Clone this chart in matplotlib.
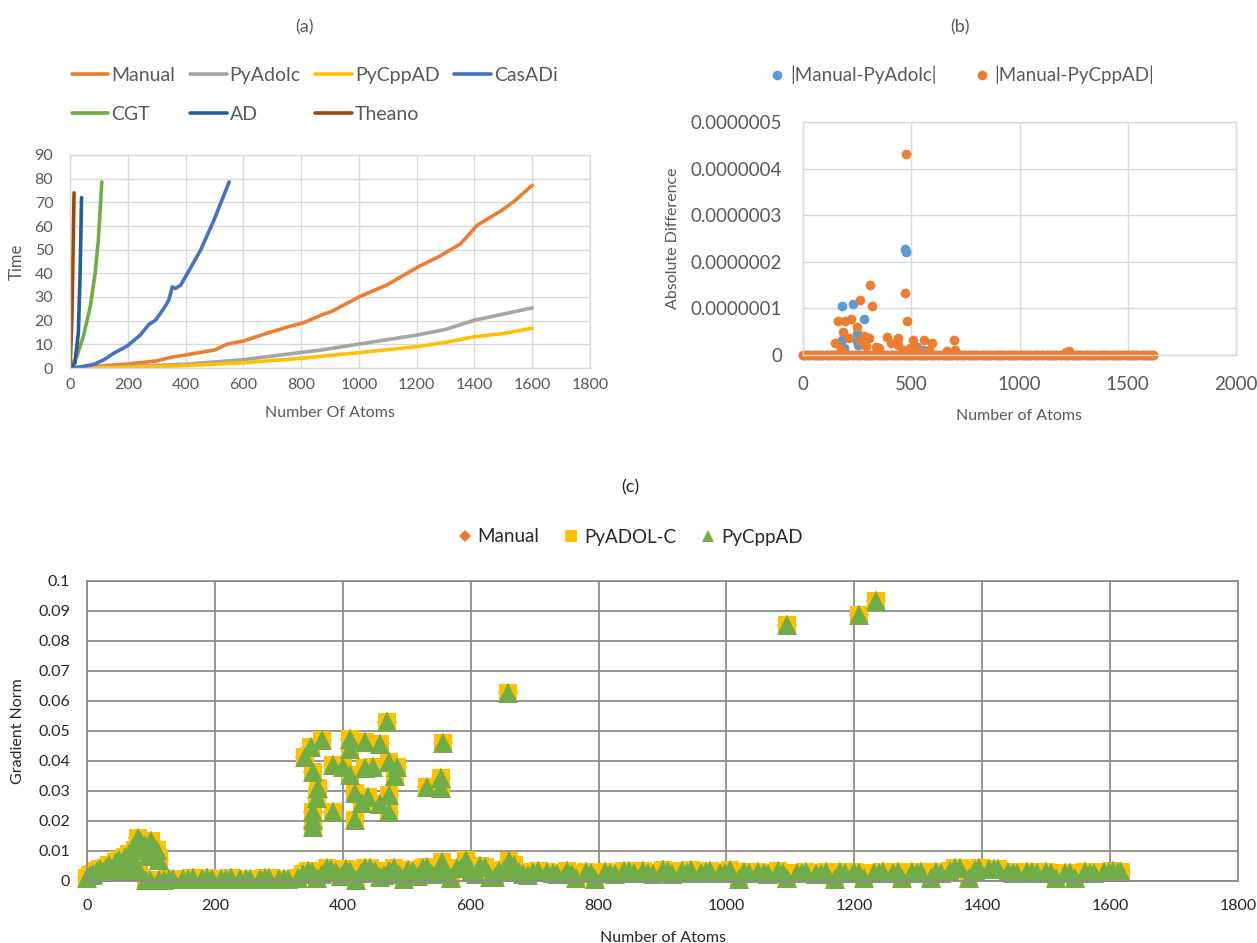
import matplotlib
matplotlib.use('Agg')
import matplotlib.pyplot as plt
from matplotlib.ticker import FuncFormatter, MultipleLocator

plt.rcParams['font.family'] = ['Lato', 'DejaVu Sans']

# ---------------- (a) run time vs number of atoms ----------------
manual_atoms = [0, 100, 200, 300, 348, 400, 500, 545, 600, 685, 755, 808, 870, 904,
                1002, 1102, 1206, 1276, 1350, 1374, 1409, 1496, 1542, 1600]
manual_time = [0, 0.8, 1.7, 3.0, 4.5, 5.5, 7.6, 10.1, 11.4, 14.8, 17.4, 19.1, 22.4, 23.8,
               30.1, 35.4, 42.8, 47.0, 52.3, 55.4, 60.3, 66.7, 70.9, 77.2]
pyadolc_atoms = [0, 200, 400, 600, 800, 870, 1000, 1200, 1300, 1400, 1500, 1600]
pyadolc_time = [0, 0.6, 1.6, 3.5, 6.6, 7.6, 10.1, 13.9, 16.3, 20.2, 22.8, 25.4]
pycppad_atoms = [0, 200, 400, 600, 800, 1000, 1200, 1300, 1400, 1500, 1600]
pycppad_time = [0, 0.3, 1.0, 2.2, 4.1, 6.5, 9.0, 10.8, 13.2, 14.6, 16.8]
casadi_atoms = [0, 35, 82, 116, 151, 198, 243, 273, 296, 325, 342, 354, 365, 383, 406,
                452, 498, 551]
casadi_time = [0, 0.4, 1.5, 3.4, 6.2, 9.3, 13.9, 18.4, 20.2, 25.2, 28.7, 34.3, 33.6, 35.0,
               39.9, 49.8, 62.4, 78.6]
cgt_atoms = [0, 23, 46, 70, 87, 98, 110]
cgt_time = [0, 4.8, 13.2, 25.9, 40.0, 54.0, 78.6]
ad_atoms = [0, 17, 29, 35, 40]
ad_time = [0, 2.0, 15.0, 40.0, 72.0]
theano_atoms = [1, 6, 10, 14]
theano_time = [2, 20, 45, 74]

# ---------------- (b) absolute differences (units of 1e-7) ----------------
adolc_out_atoms = [472, 474, 179, 233, 282, 248, 256, 179, 526, 556, 250, 190]
adolc_out_diff = [2.28, 2.22, 1.06, 1.09, 0.78, 0.47, 0.22, 0.32, 0.18, 0.11, 0.30, 0.15]
cppad_out_atoms = [476, 311, 264, 318, 472, 480, 163, 194, 222, 187, 214, 248, 307, 282,
                   148, 264, 387, 437, 508, 557, 596, 696, 336, 405, 440, 495, 704, 665,
                   1213, 1230, 175, 290, 350, 460, 530, 580]
cppad_out_diff = [4.32, 1.50, 1.17, 1.05, 1.33, 0.73, 0.73, 0.73, 0.78, 0.50, 0.36, 0.61,
                  0.37, 0.41, 0.25, 0.29, 0.38, 0.37, 0.32, 0.33, 0.25, 0.33, 0.18, 0.25,
                  0.22, 0.15, 0.11, 0.08, 0.07, 0.09, 0.12, 0.20, 0.15, 0.10, 0.12, 0.10]

# ---------------- (c) gradient norm (units of 1e-3) ----------------
band_atoms = [0, 15, 30, 45, 60, 75, 90, 105,
              120, 135, 150, 165, 180, 195, 210, 225, 240, 255, 270, 285, 300, 315, 330,
              345, 360, 375, 390, 405, 420, 435, 450, 465, 480, 495, 510, 525, 540, 555,
              570, 585, 600, 615, 630, 645, 660, 675, 690, 705,
              720, 735, 750, 765, 780, 795, 810, 825, 840, 855, 870, 885, 900, 915, 930,
              945, 960, 975, 990, 1005, 1020, 1035, 1050, 1065, 1080, 1095, 1110, 1125,
              1140, 1155, 1170, 1185, 1200, 1215, 1230, 1245, 1260, 1275, 1290, 1305,
              1320, 1335, 1350, 1365, 1380, 1395, 1410, 1425, 1440, 1455, 1470, 1485,
              1500, 1515, 1530, 1545, 1560, 1575, 1590, 1605, 1617]
band_grad = [1.0, 3.5, 4.5, 6.5, 8.0, 10.5, 12.0, 9.0,
             0.3, 0.8, 0.6, 0.9, 0.7, 0.8, 0.6, 0.9, 0.7, 0.8, 0.6, 0.9, 0.7, 0.8, 1.0,
             3.5, 1.0, 4.5, 3.0, 4.0, 0.5, 4.5, 3.5, 2.0, 4.5, 0.8, 3.5, 4.5, 2.5, 6.5,
             1.0, 4.5, 3.0, 5.0, 1.5, 3.5, 6.8, 3.0, 2.0, 3.2,
             3.0, 2.2, 3.2, 1.0, 3.0, 0.8, 3.1, 2.5, 3.3, 2.6, 3.4, 2.4, 3.6, 2.5, 3.4,
             3.8, 2.6, 3.5, 2.8, 3.6, 0.8, 2.6, 2.9, 2.5, 3.2, 0.9, 2.6, 3.1,
             2.4, 3.0, 0.8, 2.7, 3.0, 1.0, 2.8, 3.1, 2.6, 0.9, 2.9, 3.0,
             1.0, 2.8, 3.2, 4.2, 1.0, 4.3, 3.9, 4.1, 3.0, 2.8, 3.1, 2.6,
             3.0, 0.9, 2.8, 1.0, 3.1, 2.7, 3.0, 3.2, 3.0]
# second pass of the bottom band, in between the first one
band2_atoms = [8, 22, 38, 52, 68, 82, 98, 112, 128, 158, 188, 218, 248, 278, 308, 338,
               352, 368, 382, 398, 412, 428, 442, 458, 472, 488, 502, 518, 532, 548, 562,
               578, 592, 608, 622, 638, 652, 668, 682, 698, 728, 758, 788, 818, 848, 878,
               908, 938, 968, 998, 1028, 1058, 1088, 1118, 1148, 1178, 1208, 1238, 1268,
               1298, 1328, 1358, 1388, 1418, 1448, 1478, 1508, 1538, 1568, 1598, 1612]
band2_grad = [2.0, 3.0, 4.0, 3.5, 4.0, 3.8, 0.3, 0.5, 0.8, 0.7, 0.9, 0.8, 0.7, 0.9, 0.8,
              2.5, 3.0, 2.2, 4.0, 1.8, 3.2, 2.6, 4.2, 1.5, 3.4, 2.2, 3.6, 1.8, 4.8, 2.4,
              3.0, 4.2, 7.0, 2.2, 4.8, 1.2, 3.6, 5.4, 2.4, 3.0, 2.6, 2.3, 2.8, 2.6, 3.2,
              2.7, 3.4, 2.7, 3.0, 2.6, 3.0, 2.6, 2.7, 2.8, 2.5, 3.0, 2.7, 2.6, 2.9,
              2.7, 2.9, 4.4, 3.8, 4.0, 2.6, 2.9, 2.7, 2.8, 2.6, 2.9, 3.0]
early_atoms = [5, 10, 20, 25, 35, 40, 50, 55, 62, 65, 70, 78, 80, 85, 92, 95, 100, 110, 112]
early_grad = [2.0, 2.5, 4.0, 3.0, 5.5, 4.5, 7.0, 5.0, 3.5, 9.0, 7.5, 4.0, 14.5, 13.0, 0.3,
              8.5, 13.5, 10.5, 7.0]
cluster_atoms = [658, 469, 556, 367, 411, 434, 458, 351, 341, 411, 473, 385, 434, 354,
                 481, 411, 554, 531, 554, 361, 419, 440, 473, 359, 458, 385, 473, 354,
                 354, 419, 354, 400, 447, 485, 430, 1094, 1208, 1234]
cluster_grad = [62.6, 53.1, 46.1, 47.0, 47.5, 46.5, 45.7, 44.7, 41.2, 44.0, 39.8, 38.7,
                37.6, 36.4, 35.0, 35.3, 34.2, 31.5, 30.9, 31.0, 29.3, 28.1, 28.7, 27.7,
                25.7, 23.1, 23.1, 23.1, 20.3, 20.3, 18.0, 38.0, 38.0, 38.0, 26.0,
                85.3, 88.7, 93.5]

ORANGE = '#ED7D31'
GRAY = '#A5A5A5'
YELLOW = '#FFC000'
BLUE = '#4472C4'
GREEN = '#70AD47'
DKBLUE = '#255E91'
BROWN = '#9E480E'
LTBLUE = '#5B9BD5'
TXT = '#595959'

W, H = 1257, 943
fig = plt.figure(figsize=(W / 100, H / 100), dpi=100)


def style_axes(ax, grid_color, lw, txt, size, pad_x, pad_y):
    for s in ax.spines.values():
        s.set_color(grid_color)
        s.set_linewidth(lw)
    ax.grid(True, color=grid_color, linewidth=lw)
    ax.set_axisbelow(True)
    ax.tick_params(length=0, labelsize=size, labelcolor=txt)
    ax.tick_params(axis='x', pad=pad_x)
    ax.tick_params(axis='y', pad=pad_y)


# ---------- panel (a)
ax_a = fig.add_axes([70 / W, 1 - 368 / H, 520 / W, 213 / H])
series_a = [
    ('Manual', manual_atoms, manual_time, ORANGE),
    ('PyAdolc', pyadolc_atoms, pyadolc_time, GRAY),
    ('PyCppAD', pycppad_atoms, pycppad_time, YELLOW),
    ('CasADi', casadi_atoms, casadi_time, BLUE),
    ('CGT', cgt_atoms, cgt_time, GREEN),
    ('AD', ad_atoms, ad_time, DKBLUE),
    ('Theano', theano_atoms, theano_time, BROWN),
]
lines_a = {}
for name, xs, ys, col in series_a:
    lines_a[name], = ax_a.plot(xs, ys, color=col, lw=2.6, label=name,
                               solid_capstyle='round')
ax_a.set_xlim(0, 1800)
ax_a.set_ylim(0, 90)
ax_a.xaxis.set_major_locator(MultipleLocator(200))
ax_a.yaxis.set_major_locator(MultipleLocator(10))
style_axes(ax_a, '#D9D9D9', 1.0, TXT, 11.5, 7, 12)
ax_a.set_xlabel('Number Of Atoms', fontsize=11.5, color=TXT, labelpad=10)
ax_a.set_ylabel('Time', fontsize=12, color=TXT, labelpad=7)
order = ['Manual', 'CGT', 'PyAdolc', 'AD', 'PyCppAD', 'Theano', 'CasADi']
fig.legend([lines_a[n] for n in order], order, loc='center left',
           bbox_to_anchor=(54 / W, 1 - 95 / H), ncol=4, frameon=False,
           fontsize=14, labelcolor=TXT, handlelength=1.9, handletextpad=0.15,
           columnspacing=0.75, labelspacing=1.15)
fig.text(305 / W, 1 - 27 / H, '(a)', ha='center', va='center', fontsize=13, color=TXT)

# ---------- panel (b)
ax_b = fig.add_axes([803 / W, 1 - 355 / H, 433 / W, 233 / H])
band_zero = [0.0] * len(band_atoms)
adolc_x = band_atoms + adolc_out_atoms
adolc_y = [v * 1e-7 for v in band_zero + adolc_out_diff]
cppad_x = band_atoms + cppad_out_atoms
cppad_y = [v * 1e-7 for v in band_zero + cppad_out_diff]
ha, = ax_b.plot(adolc_x, adolc_y, 'o', color=LTBLUE, ms=7.0, mew=0, clip_on=False,
                label='|Manual-PyAdolc|')
hc, = ax_b.plot(cppad_x, cppad_y, 'o', color=ORANGE, ms=7.0, mew=0, clip_on=False,
                label='|Manual-PyCppAD|')
ax_b.set_xlim(0, 2000)
ax_b.set_ylim(0, 5e-7)
ax_b.xaxis.set_major_locator(MultipleLocator(500))
ax_b.yaxis.set_major_locator(MultipleLocator(1e-7))
ax_b.yaxis.set_major_formatter(FuncFormatter(lambda v, p: '0' if abs(v) < 1e-12 else f'{v:.7f}'))
style_axes(ax_b, '#D9D9D9', 1.0, TXT, 13.5, 15, 15)
ax_b.set_xlabel('Number of Atoms', fontsize=11.5, color=TXT, labelpad=12)
ax_b.set_ylabel('Absolute Difference', fontsize=11.5, color=TXT, labelpad=8)
fig.legend([ha, hc], ['|Manual-PyAdolc|', '|Manual-PyCppAD|'], loc='center',
           bbox_to_anchor=(962 / W, 1 - 75 / H), ncol=2, frameon=False,
           fontsize=13.5, labelcolor=TXT, handlelength=0.8, handletextpad=0.3,
           columnspacing=2.0, markerscale=1.0)
fig.text(960 / W, 1 - 27 / H, '(b)', ha='center', va='center', fontsize=13, color=TXT)

# ---------- panel (c)
ax_c = fig.add_axes([87 / W, 1 - 881 / H, 1151 / W, 300 / H])
c_atoms = band_atoms + band2_atoms + early_atoms + cluster_atoms
c_grad = [v * 1e-3 for v in band_grad + band2_grad + early_grad + cluster_grad]
hm, = ax_c.plot(c_atoms, c_grad, 'D', color=ORANGE, ms=10.5, mew=0, clip_on=False)
hs, = ax_c.plot(c_atoms, c_grad, 's', color=YELLOW, ms=13.5, mew=0, clip_on=False)
ht, = ax_c.plot(c_atoms, c_grad, '^', color=GREEN, ms=14.0, mew=0, clip_on=False)
ax_c.set_xlim(0, 1800)
ax_c.set_ylim(0, 0.1)
ax_c.xaxis.set_major_locator(MultipleLocator(200))
ax_c.yaxis.set_major_locator(MultipleLocator(0.01))
ax_c.yaxis.set_major_formatter(FuncFormatter(
    lambda v, p: '0' if abs(v) < 1e-9 else f'{v:.2f}'.rstrip('0')))
style_axes(ax_c, '#8C8C8C', 1.3, '#262626', 11.5, 13, 12)
ax_c.set_xlabel('Number of Atoms', fontsize=11.5, color='#262626', labelpad=13)
ax_c.set_ylabel('Gradient Norm', fontsize=11.5, color='#262626', labelpad=10)
fig.legend([hm, hs, ht], ['Manual', 'PyADOL-C', 'PyCppAD'], loc='center',
           bbox_to_anchor=(630 / W, 1 - 537 / H), ncol=3, frameon=False,
           fontsize=13.5, labelcolor='#262626', handlelength=0.8, handletextpad=0.3,
           columnspacing=1.3, markerscale=0.6)
fig.text(630 / W, 1 - 487 / H, '(c)', ha='center', va='center', fontsize=13,
         color='#262626')

fig.savefig('out.png', dpi=100)
